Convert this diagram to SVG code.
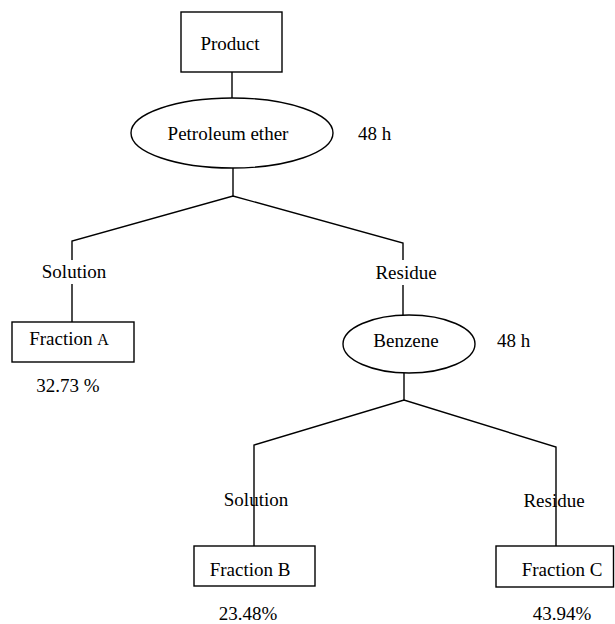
<svg xmlns="http://www.w3.org/2000/svg" width="615" height="624" viewBox="0 0 615 624">
<style>
.n{fill:#fff;stroke:#000;stroke-width:1.4}
.c{fill:none;stroke:#000;stroke-width:1.4}
text{font-family:"Liberation Serif","Times New Roman",serif;font-size:19px;fill:#000}
.m{text-anchor:middle}
</style>
<rect width="615" height="624" fill="#fff"/>
<g id="connectors">
<line class="c" x1="232" y1="72" x2="232" y2="98"/>
<line class="c" x1="233" y1="168" x2="233" y2="196"/>
<polyline class="c" points="72,260 72,241 233,196 403,243 403,260"/>
<line class="c" x1="72" y1="284" x2="72" y2="322"/>
<line class="c" x1="403" y1="285" x2="403" y2="315"/>
<line class="c" x1="404" y1="373" x2="404" y2="400"/>
<polyline class="c" points="254,546 254,445 404,400 556,447 556,546"/>
</g>
<g id="product">
<rect class="n" x="181" y="12" width="101" height="60"/>
<text class="m" x="230" y="50">Product</text>
</g>
<g id="petroleum-ether">
<ellipse class="n" cx="232" cy="133" rx="101" ry="35"/>
<text class="m" x="228" y="140">Petroleum ether</text>
<text x="358" y="140">48 h</text>
</g>
<g id="solution-1">
<text class="m" x="74" y="278">Solution</text>
</g>
<g id="residue-1">
<text class="m" x="406" y="279">Residue</text>
</g>
<g id="fraction-a">
<rect class="n" x="12" y="322" width="122" height="40"/>
<text class="m" x="69" y="345">Fraction <tspan font-size="16">A</tspan></text>
<text class="m" x="68" y="392">32.73 %</text>
</g>
<g id="benzene">
<ellipse class="n" cx="409" cy="344" rx="66" ry="29"/>
<text class="m" x="406" y="347">Benzene</text>
<text x="497" y="347">48 h</text>
</g>
<g id="solution-2">
<text class="m" x="256" y="506">Solution</text>
</g>
<g id="residue-2">
<text class="m" x="554" y="507">Residue</text>
</g>
<g id="fraction-b">
<rect class="n" x="194" y="546" width="121" height="40"/>
<text class="m" x="250" y="576">Fraction B</text>
<text class="m" x="248" y="620">23.48%</text>
</g>
<g id="fraction-c">
<rect class="n" x="496" y="546" width="117.5" height="41"/>
<text class="m" x="562" y="576">Fraction C</text>
<text class="m" x="562" y="620">43.94%</text>
</g>
</svg>
